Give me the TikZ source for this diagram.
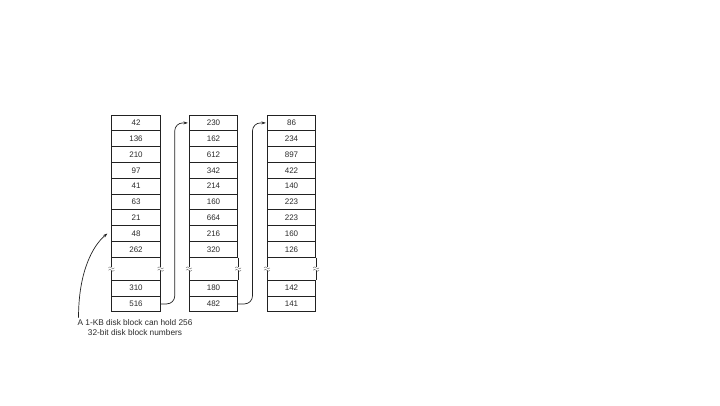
\documentclass[tikz,border=0pt]{standalone}
\usepackage{fontspec}
\setmainfont{Liberation Sans}
\usetikzlibrary{calc,arrows.meta}
\definecolor{ink}{HTML}{222222}
\definecolor{txt}{HTML}{2A2A2A}
\tikzset{
  cell/.style={draw=ink, line width=0.7pt, minimum width=48.5pt, minimum height=15.8pt,
    inner sep=0pt, text=txt, font=\fontsize{8}{9}\selectfont},
  side/.style={draw=ink, line width=0.7pt},
  brk/.style={draw=ink!60, line width=0.45pt},
  link/.style={draw=ink, line width=0.7pt, line cap=round, -{Stealth[length=4.5pt,width=3pt]}},
  lab/.style={text=txt, align=center, font=\fontsize{8.3}{10}\selectfont},
}

\begin{document}
\begin{tikzpicture}[x=1pt,y=-1pt]
  \useasboundingbox (0,0) rectangle (720,405);
  % the three blocks, rows 10 and 11 sit below the broken part
  \foreach \c/\x/\vals in {1/136/{42,136,210,97,41,63,21,48,262,310,516},
                           2/213.5/{230,162,612,342,214,160,664,216,320,180,482},
                           3/291.5/{86,234,897,422,140,223,223,160,126,142,141}}{
    \foreach \v [count=\r] in \vals {
      \pgfmathsetmacro{\y}{115+15.8*(\r-0.5)+(\r>9)*23}
      \node[cell] (b\c-\r) at (\x,\y) {\v};
    }
    \foreach \s in {west,east}{
      \draw[side] (b\c-9.south \s) -- ++(0,9.5);
      \draw[side] (b\c-10.north \s) -- ++(0,-9.5);
      \draw[brk] ($(b\c-9.south \s)+(-3,10.3)$) sin ++(1.5,-1) cos ++(1.5,1) sin ++(1.5,1) cos ++(1.5,-1);
      \draw[brk] ($(b\c-9.south \s)+(-3,12.7)$) sin ++(1.5,-1) cos ++(1.5,1) sin ++(1.5,1) cos ++(1.5,-1);
    }
  }
  % last entry points at the next block
  \draw[link, rounded corners=8pt] (b1-11.east) -| ($(b1-11.east)!0.5!(b2-1.west)$) |- ([xshift=-1pt]b2-1.west);
  \draw[link, rounded corners=8pt] (b2-11.east) -| ($(b2-11.east)!0.5!(b3-1.west)$) |- ([xshift=-1pt]b3-1.west);
  \node[lab] (cap) at (135,328) {A 1-KB disk block can hold 256\\32-bit disk block numbers};
  \draw[link] ([xshift=4.5pt,yshift=-1pt]cap.north west) .. controls +(0,-46) and +(-14.5,12) .. ([xshift=-4pt]b1-8.west);
\end{tikzpicture}
\end{document}
